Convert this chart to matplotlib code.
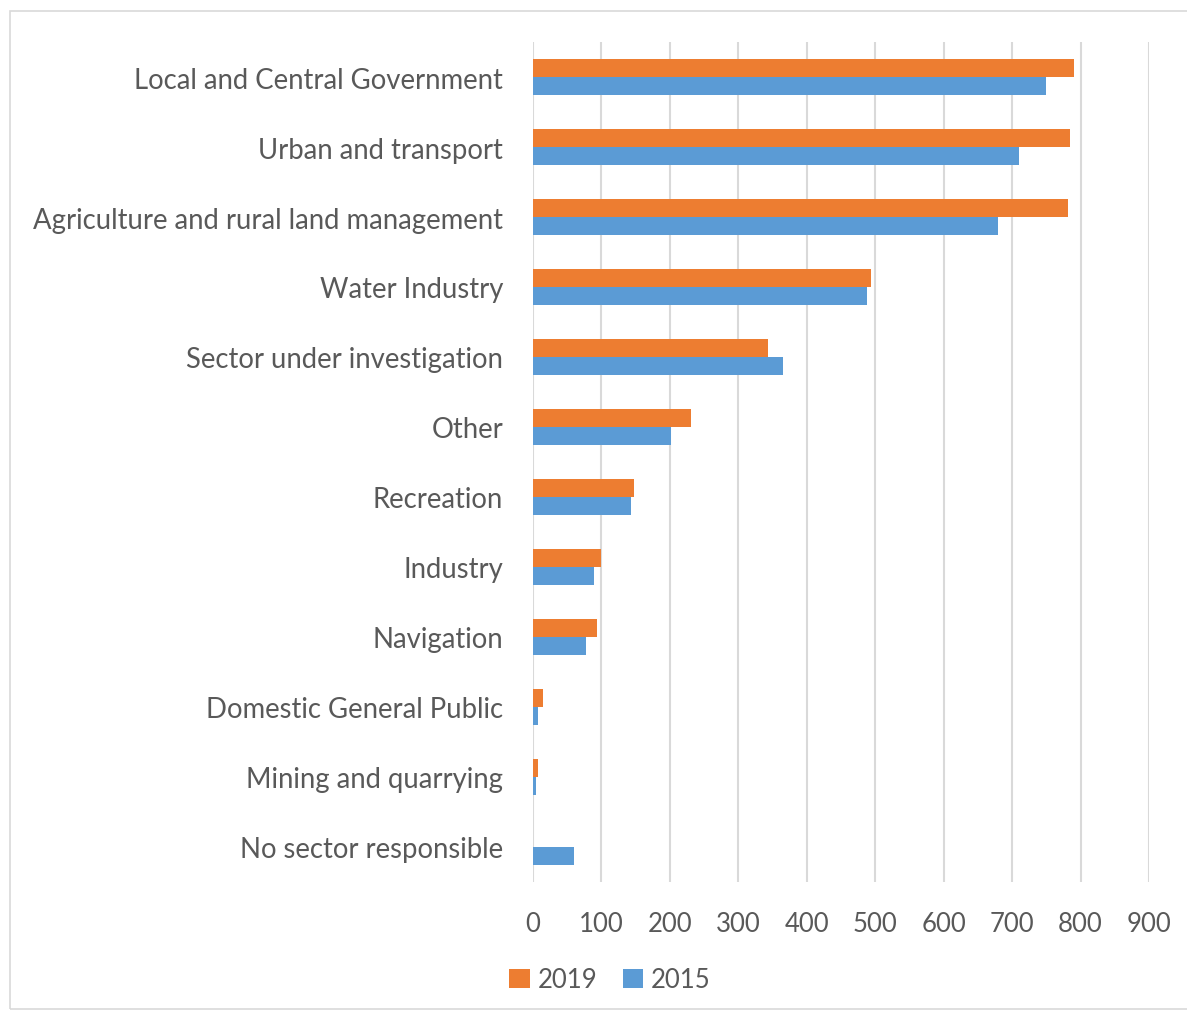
import matplotlib.pyplot as plt
import numpy as np
from matplotlib.patches import Rectangle

categories = ["Local and Central Government", "Urban and transport",
              "Agriculture and rural land management", "Water Industry",
              "Sector under investigation", "Other", "Recreation", "Industry",
              "Navigation", "Domestic General Public", "Mining and quarrying",
              "No sector responsible"]
values_2019 = [790, 785, 781, 494, 344, 231, 147, 100, 94, 14, 7, 0]
values_2015 = [750, 710, 680, 488, 365, 202, 143, 89, 78, 8, 4, 60]
xticks = list(range(0, 1000, 100))

plt.rcParams['font.family'] = ['Lato', 'DejaVu Sans']
text_col = "#595959"

fig = plt.figure(figsize=(11.87, 10.12), dpi=100)
ax = fig.add_axes([0.449, 0.1275, 0.519, 0.83])

# outer chart border
fig.patches.append(Rectangle((10 / 1187, 2 / 1012), 1.0, 998 / 1012, transform=fig.transFigure,
                             fill=False, edgecolor="#D9D9D9", linewidth=1.2))

y = np.arange(len(categories))
h = 0.257
ax.barh(y - h / 2, values_2019, height=h, color="#ED7D31", label="2019", zorder=3)
ax.barh(y + h / 2, values_2015, height=h, color="#5B9BD5", label="2015", zorder=3)

ax.set_ylim(len(categories) - 0.5, -0.5)
ax.set_xlim(0, 900)
ax.set_yticks(y, categories)
ax.set_xticks(xticks, [str(t) for t in xticks])
ax.tick_params(axis="y", length=0, pad=21.5, labelsize=19.8, labelcolor=text_col)
ax.tick_params(axis="x", length=0, pad=21, labelsize=18.5, labelcolor=text_col)

ax.grid(axis="x", color="#D9D9D9", linewidth=1.5, zorder=0)
for s in ax.spines.values():
    s.set_visible(False)

handles, labels = ax.get_legend_handles_labels()
fig.legend(handles, labels, loc="center", bbox_to_anchor=(610 / 1187, 1 - 981 / 1012),
           ncol=2, frameon=False, fontsize=18.5, labelcolor=text_col,
           handlelength=0.8, handleheight=0.8, handletextpad=0.3, columnspacing=1.0)

plt.savefig("out.png", dpi=100)
